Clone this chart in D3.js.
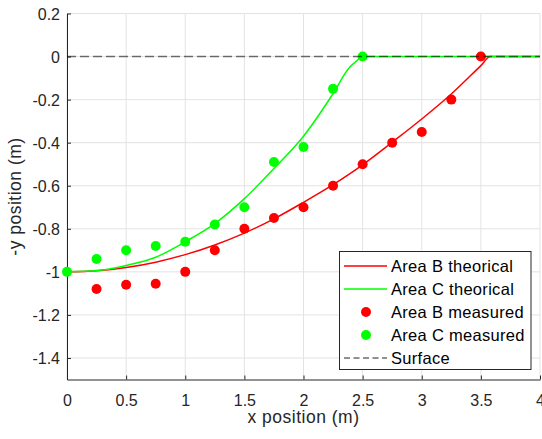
<!DOCTYPE html>
<html><head><meta charset="utf-8">
<script src="https://cdn.jsdelivr.net/npm/d3@7"></script>
<style>body{margin:0;background:#fff;}svg{display:block;font-family:"Liberation Sans",Arial,sans-serif;}</style>
</head><body>
<svg id="c" width="542" height="439"></svg>
<script>
const xTicks = [0,0.5,1,1.5,2,2.5,3,3.5,4];
const yTicks = [0.2,0,-0.2,-0.4,-0.6,-0.8,-1,-1.2,-1.4];

const theoBx = [0,0.25,0.5,0.75,1,1.25,1.5,1.75,2,2.25,2.5,2.75,3,3.25,3.5,3.58,4];
const theoBy = [-1,-0.995,-0.98,-0.955,-0.92,-0.875,-0.82,-0.754,-0.677,-0.595,-0.503,-0.398,-0.29,-0.174,-0.042,0,0];
const theoCx = [0,0.25,0.5,0.75,1,1.25,1.5,1.75,2,2.24,2.39,2.45,2.5,4];
const theoCy = [-1,-0.994,-0.97,-0.932,-0.86,-0.776,-0.66,-0.52,-0.37,-0.181,-0.05,-0.02,0,0];
const measBx = [0.25,0.5,0.75,1,1.25,1.5,1.75,2,2.25,2.5,2.75,3,3.25,3.5];
const measBy = [-1.08,-1.06,-1.055,-1.0,-0.9,-0.8,-0.75,-0.7,-0.6,-0.5,-0.4,-0.35,-0.2,0];
const measCx = [0,0.25,0.5,0.75,1,1.25,1.5,1.75,2,2.25,2.5];
const measCy = [-1,-0.94,-0.9,-0.88,-0.86,-0.78,-0.7,-0.49,-0.42,-0.15,0];
const surfaceX = [0,4];
const surfaceY = [0,0];
const legendLabels = ["Area B theorical","Area C theorical","Area B measured","Area C measured","Surface"];

const svg = d3.select("#c");
const L=67, R=540, T=13.5, B=379.5;
const x = d3.scaleLinear().domain([0,4]).range([L,R]);
const y = d3.scaleLinear().domain([-1.5,0.2]).range([B,T]);
const tc = "#262626";
const ff = "'Liberation Sans',Arial,sans-serif";

// grid
const g = svg.append("g");
g.selectAll(".gx").data(xTicks).join("line")
  .attr("x1",d=>x(d)).attr("x2",d=>x(d)).attr("y1",T).attr("y2",B)
  .attr("stroke","#e3e3e3").attr("stroke-width",1);
g.selectAll(".gy").data(yTicks).join("line")
  .attr("y1",d=>y(d)).attr("y2",d=>y(d)).attr("x1",L).attr("x2",R)
  .attr("stroke","#e3e3e3").attr("stroke-width",1);

// axes
const xa = svg.append("g").attr("transform",`translate(0,${B})`)
  .call(d3.axisBottom(x).tickValues(xTicks).tickFormat(d=>String(d)).tickSizeInner(-4).tickSizeOuter(0));
const ya = svg.append("g").attr("transform",`translate(${L},0)`)
  .call(d3.axisLeft(y).tickValues(yTicks).tickFormat(d=>String(d)).tickSizeInner(-4).tickSizeOuter(0).tickPadding(7));
[xa,ya].forEach(a=>{
  a.select(".domain").attr("stroke",tc).attr("stroke-width",1);
  a.selectAll(".tick line").attr("stroke",tc);
  a.selectAll(".tick text").attr("fill",tc).style("font-size","16px").style("font-family",ff);
});
xa.selectAll(".tick text").attr("dy",null).attr("y",26);
ya.selectAll(".tick text").attr("dy","0.36em");

svg.append("text").attr("x",(L+R)/2).attr("y",423).attr("text-anchor","middle")
  .attr("fill",tc).style("font-size","17.5px").style("letter-spacing","0.5px").text("x position (m)");
svg.append("text").attr("transform",`translate(21,${(T+B)/2}) rotate(-90)`).attr("text-anchor","middle")
  .attr("fill",tc).style("font-size","17.5px").style("letter-spacing","0.5px").text("-y position (m)");

const line = d3.line().x(d=>x(d[0])).y(d=>y(d[1])).curve(d3.curveMonotoneX);
const pd = svg.append("g");
pd.append("path").datum(d3.zip(theoBx,theoBy)).attr("d",line).attr("fill","none").attr("stroke","#ff0000").attr("stroke-width",1.5);
pd.append("path").datum(d3.zip(theoCx,theoCy)).attr("d",line).attr("fill","none").attr("stroke","#00ff00").attr("stroke-width",1.5);
pd.selectAll(".mb").data(d3.zip(measBx,measBy)).join("circle")
  .attr("cx",d=>x(d[0])).attr("cy",d=>y(d[1])).attr("r",5).attr("fill","#ff0000");
pd.selectAll(".mc").data(d3.zip(measCx,measCy)).join("circle")
  .attr("cx",d=>x(d[0])).attr("cy",d=>y(d[1])).attr("r",5).attr("fill","#00ff00");
pd.append("path").datum(d3.zip(surfaceX,surfaceY)).attr("d",d3.line().x(d=>x(d[0])).y(d=>y(d[1]))).attr("fill","none")
  .attr("stroke","#000").attr("stroke-opacity",0.55).attr("stroke-width",1.5).attr("stroke-dasharray","9,4");

// legend
const lg = svg.append("g");
lg.append("rect").attr("x",339.5).attr("y",251.5).attr("width",191.5).attr("height",118)
  .attr("fill","#fff").attr("stroke",tc).attr("stroke-width",1);
const rowY = i => 266 + i*23;
const items = [
  {t:"line",c:"#ff0000"},{t:"line",c:"#00ff00"},{t:"dot",c:"#ff0000"},{t:"dot",c:"#00ff00"},{t:"dash",c:"#000"}
];
items.forEach((it,i)=>{
  const yy = rowY(i);
  if(it.t==="line") lg.append("line").attr("x1",344).attr("x2",387).attr("y1",yy).attr("y2",yy).attr("stroke",it.c).attr("stroke-width",1.5);
  else if(it.t==="dot") lg.append("circle").attr("cx",366).attr("cy",yy).attr("r",5).attr("fill",it.c);
  else lg.append("line").attr("x1",344).attr("x2",387).attr("y1",yy).attr("y2",yy).attr("stroke","#222").attr("stroke-width",1).attr("stroke-dasharray","6,3.5");
  lg.append("text").attr("x",391).attr("y",yy+6).attr("fill","#000").style("font-size","16.5px").style("letter-spacing","0.3px").text(legendLabels[i]);
});
</script>
</body></html>
